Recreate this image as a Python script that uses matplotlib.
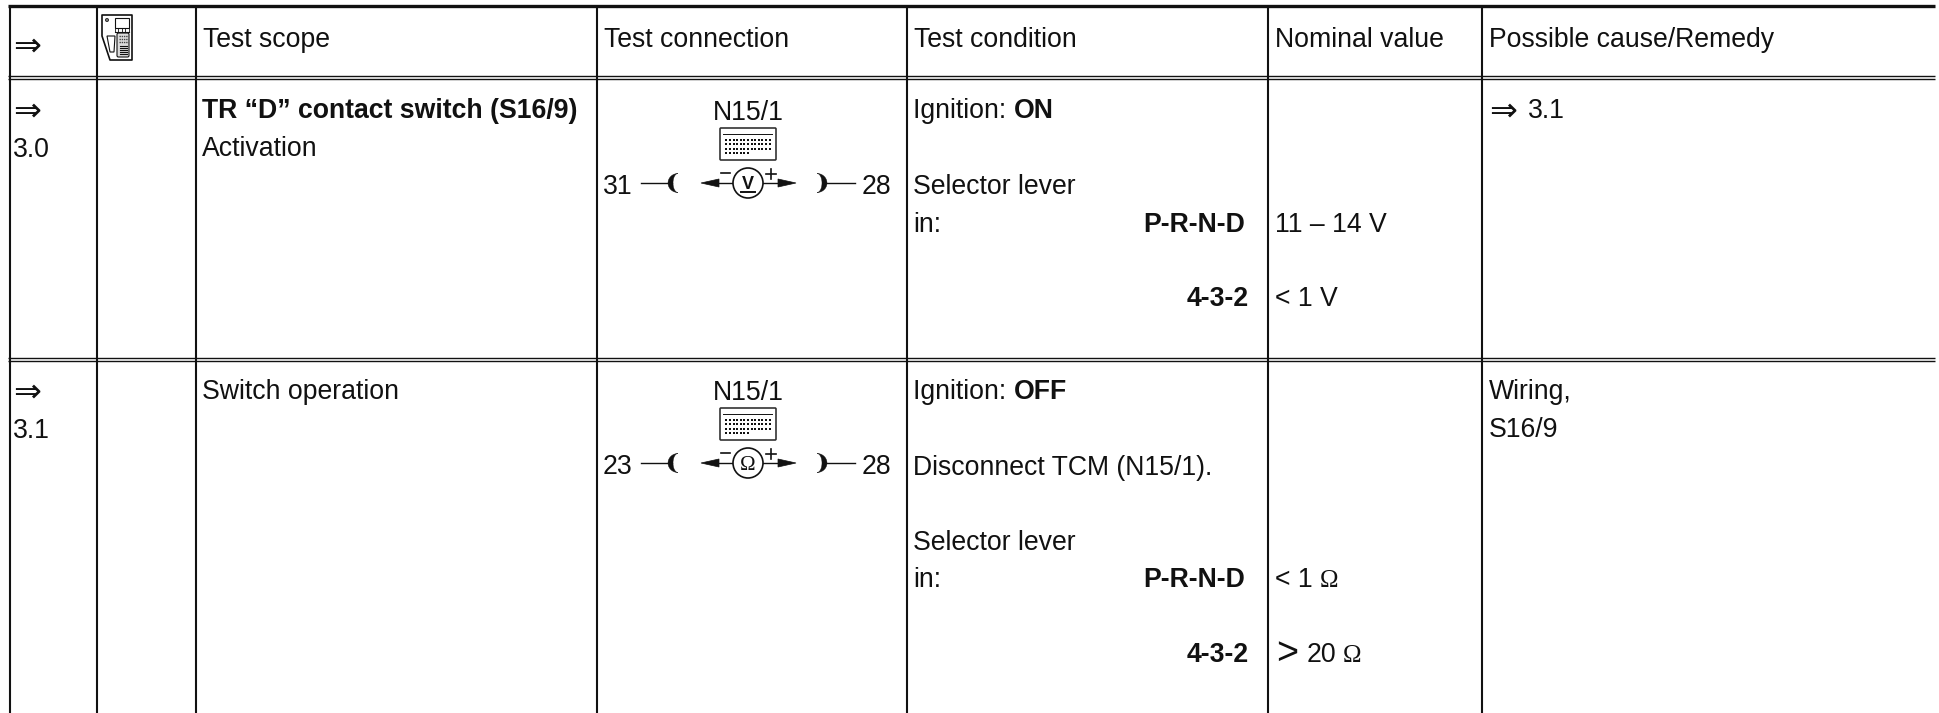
import matplotlib
matplotlib.use("Agg")
import matplotlib.pyplot as plt
import numpy as np
from matplotlib.patches import Rectangle, FancyBboxPatch, Circle, Polygon

SANS = ["Liberation Sans", "DejaVu Sans"]
SERIF = ["Liberation Serif", "DejaVu Serif"]
ARROW = ["DejaVu Sans"]
FS = 19.2
FA = 24

headers = ["Test scope", "Test connection", "Test condition", "Nominal value", "Possible cause/Remedy"]
col_edges = [10, 97, 196, 597, 907, 1268, 1482]
steps = ["3.0", "3.1"]
scopes = [["TR “D” contact switch (S16/9)", "Activation"], ["Switch operation"]]
pins = [("31", "28"), ("23", "28")]
meter = ["V", "Ω"]
remedies = [["3.1"], ["Wiring,", "S16/9"]]
row_base = [118, 399]
cond_plain = [("Ignition: ", 118), ("Selector lever", 194), ("in:", 232),
              ("Ignition: ", 399), ("Disconnect TCM (N15/1).", 475), ("Selector lever", 550), ("in:", 587)]
cond_bold = [("ON", 118), ("OFF", 399)]
positions = [("P-R-N-D", 232, 1245), ("4-3-2", 306, 1249), ("P-R-N-D", 587, 1245), ("4-3-2", 662, 1249)]
nominal = [("11 – 14 V", 232), ("< 1 V", 306)]

fig = plt.figure(figsize=(19.4, 7.13), dpi=100)
ax = fig.add_axes([0, 0, 1, 1])
ax.set_xlim(0, 1940)
ax.set_ylim(713, 0)
ax.axis("off")

K = "#111111"
TOP, H1, H2, MID1, MID2, BOT = 6, 76, 79, 357.5, 360.5, 713
LEFT, RIGHT = 8, 1935


def t(x, y, s, weight="normal", ha="left", fam=SANS, fs=FS, z=5):
    return ax.text(x, y, s, family=fam, fontsize=fs, fontweight=weight, ha=ha, va="baseline", color=K, zorder=z)


# grid
ax.plot([LEFT, RIGHT], [TOP, TOP], color=K, lw=2.4, solid_capstyle="butt")
for y in (H1, H2, MID1, MID2):
    ax.plot([LEFT, RIGHT], [y, y], color=K, lw=1.0, solid_capstyle="butt")
for x in col_edges:
    ax.plot([x, x], [TOP, BOT], color=K, lw=1.5, solid_capstyle="butt")

# header
t(13, 56, "⇒", fam=ARROW, fs=FA)
for c, h in zip(col_edges[2:], headers):
    t(c + 7, 47, h)


def device(x0, y0):
    ax.add_patch(Polygon([(x0 + 1, y0 + 1), (x0 + 31, y0 + 1), (x0 + 31, y0 + 46), (x0 + 9, y0 + 46), (x0 + 1, y0 + 22)],
                         closed=True, fc="white", ec=K, lw=1.2, joinstyle="round"))
    ax.add_patch(Rectangle((x0 + 14, y0 + 4), 14, 10, fc="white", ec=K, lw=0.8))
    for i in range(5):
        ax.plot([x0 + 14 + i * 3.5] * 2, [y0 + 14, y0 + 18], color=K, lw=0.6)
    ax.plot([x0 + 14, x0 + 28], [y0 + 18, y0 + 18], color=K, lw=0.8)
    ax.add_patch(Circle((x0 + 6, y0 + 6), 1.6, fc="#777777", ec=K, lw=0.5))
    ax.add_patch(Polygon([(x0 + 6, y0 + 22), (x0 + 14, y0 + 22), (x0 + 13, y0 + 38), (x0 + 9, y0 + 38)], fc="white", ec=K, lw=0.8))
    ax.add_patch(FancyBboxPatch((x0 + 16, y0 + 19), 12, 24, boxstyle="round,pad=0,rounding_size=1.5", fc="#dddddd", ec=K, lw=0.8))
    for i in range(5):
        ax.plot([x0 + 19, x0 + 26], [y0 + 32 + i * 2] * 2, color=K, lw=0.8)
    for i in range(3):
        ax.plot([x0 + 18, x0 + 27], [y0 + 22 + i * 3] * 2, color="#444444", lw=1.0, ls=(0, (1, 0.6)))


device(101, 14)


def connector(x0, y0):
    ax.add_patch(FancyBboxPatch((x0, y0), 56, 32, boxstyle="round,pad=0,rounding_size=1", fc="white", ec="#333333", lw=1.2))
    ax.plot([x0 + 3, x0 + 52], [y0 + 6, y0 + 6], color=K, lw=0.7)
    xs, ys = [], []
    for r, n in enumerate([13, 13, 13, 7]):
        for i in range(n):
            xs.append(x0 + 6.5 + i * 3.6)
            ys.append(y0 + 11.5 + r * 4.6)
    ax.scatter(xs, ys, s=1.8, color=K, marker="s", linewidths=0)


def crescent(xc, yc, sign):
    th = np.linspace(-np.pi / 2, np.pi / 2, 30)
    outer = np.column_stack([xc + sign * 10 * np.cos(th), yc + 9.5 * np.sin(th)])
    inner = np.column_stack([xc + sign * 5 * np.cos(th[::-1]), yc + 9.5 * np.sin(th[::-1])])
    ax.add_patch(Polygon(np.vstack([outer, inner]), closed=True, fc=K, ec=K, lw=0.3))


def switch(i, y0):
    # y0: centre line of the measurement symbol
    cx = 748
    t(cx, y0 - 63, "N15/1", ha="center")
    connector(cx - 28, y0 - 55)
    l, r = pins[i]
    t(603, y0 + 11.5, l)
    t(862, y0 + 11.5, r)
    ax.plot([641, 672], [y0, y0], color=K, lw=1.0)
    ax.plot([823, 855], [y0, y0], color=K, lw=1.0)
    crescent(678, y0, -1)
    crescent(817, y0, 1)
    ax.add_patch(Circle((748, y0), 15, fc="white", ec=K, lw=1.2, zorder=3))
    for a, b in [(733, 714), (763, 782)]:
        ax.plot([a, b], [y0, y0], color=K, lw=1.0)
    ax.add_patch(Polygon([(701, y0), (719, y0 - 4), (719, y0 + 4)], fc=K, ec=K, lw=0.5))
    ax.add_patch(Polygon([(796, y0), (778, y0 - 4), (778, y0 + 4)], fc=K, ec=K, lw=0.5))
    ax.plot([721, 730], [y0 - 10, y0 - 10], color=K, lw=1.2)
    ax.plot([766, 776], [y0 - 9, y0 - 9], color=K, lw=1.2)
    ax.plot([771, 771], [y0 - 14, y0 - 4], color=K, lw=1.2)
    if meter[i] == "V":
        ax.text(748, y0 + 6, "V", family=SANS, fontsize=13, fontweight="bold", ha="center", va="baseline", color=K, zorder=4)
        ax.plot([741, 755], [y0 + 9, y0 + 9], color=K, lw=1.4, zorder=4)
    else:
        ax.text(748, y0 + 7, "Ω", family=SERIF, fontsize=15, ha="center", va="baseline", color=K, zorder=4)


# step column
for s, y in zip(steps, row_base):
    t(13, y + 3, "⇒", fam=ARROW, fs=FA)
    t(13, y + 39, s)

# scopes
for k, (lines, y) in enumerate(zip(scopes, row_base)):
    for j, line in enumerate(lines):
        t(col_edges[2] + 6, y + j * 38, line, weight="bold" if (k == 0 and j == 0) else "normal")

switch(0, 183)
switch(1, 463)

# conditions
cx0 = col_edges[4] + 6
for plain, y in cond_plain:
    t(cx0, y, plain)
for s, y in cond_bold:
    t(1014, y, s, weight="bold")
for s, y, x in positions:
    t(x, y, s, weight="bold", ha="right")

# nominal values
for s, y in nominal:
    t(1275, y, s)
t(1275, 587, "< 1")
t(1320, 587, "Ω", fam=SERIF, fs=18)
t(1276, 664, ">", fs=FS + 8)
t(1307, 662, "20")
t(1343, 662, "Ω", fam=SERIF, fs=18)

# remedies
t(1489, 121, "⇒", fam=ARROW, fs=FA)
t(1528, 118, remedies[0][0])
for j, line in enumerate(remedies[1]):
    t(col_edges[6] + 7, row_base[1] + j * 38, line)

fig.savefig("out.png", dpi=100, facecolor="white")
